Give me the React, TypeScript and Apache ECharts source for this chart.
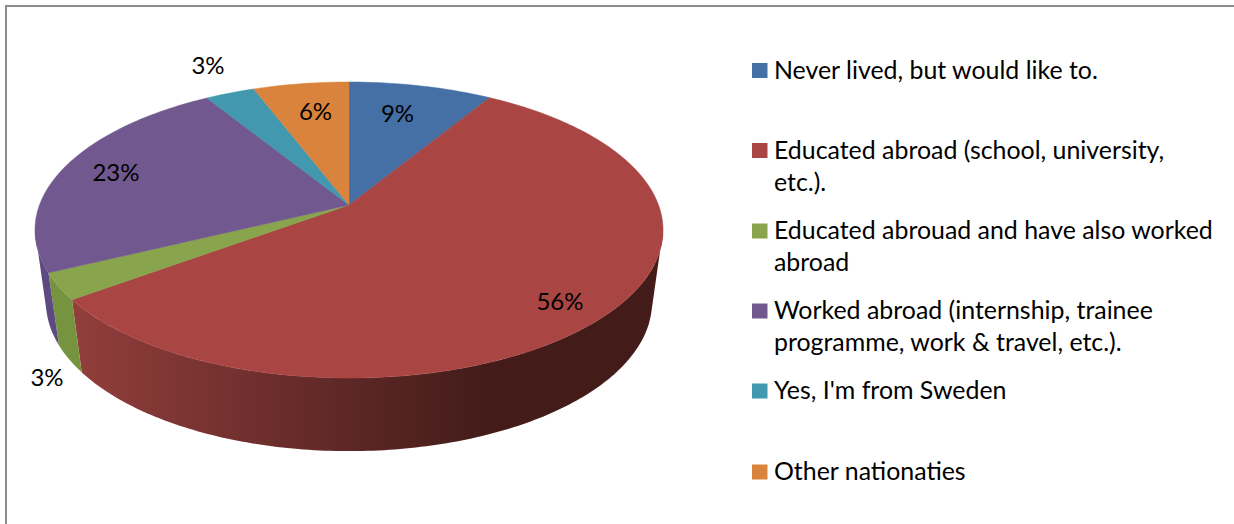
import React, { useEffect, useRef } from "react";
import * as echarts from "echarts";

const categories = [
  "Never lived, but would like to.",
  "Educated abroad (school, university,\netc.).",
  "Educated abrouad and have also worked\nabroad",
  "Worked abroad (internship, trainee\nprogramme, work & travel, etc.).",
  "Yes, I'm from Sweden",
  "Other nationaties",
];
const shares = [8.7, 56.2, 2.9, 23.4, 3.0, 5.8];
const topColors = ["#4470A6", "#A94543", "#88A44D", "#71588F", "#4198AF", "#DA833C"];
const wallColors = ["#35577F", "#7E3432", "#769440", "#5E4A80", "#327487", "#A8652F"];
const labelCenters = [[397.5, 112], [560, 300.5], [47, 376.5], [116, 171.5], [208, 64.5], [315.5, 110.5]];
const legendRowY = [70.5, 150.5, 231, 311, 391, 472];

const FONT = "Lato, Carlito, sans-serif";
const CX = 349;
const TOP_Y = 205;
const BOTTOM_Y = 277;
const A = 309.5;
const B = 143.8;
const B_BOTTOM = 144.7;
const K = 0.169;
const BOTTOM_SCALE = 0.965;
// Silhouette of the cylinder: where the top rim and the bottom rim turn away from the viewer.
const TOP_EDGE = Math.acos(-K);
const BOTTOM_EDGE = (104 / 180) * Math.PI;

const total = shares.reduce((s, v) => s + v, 0);
const starts = shares.map((_, i) => shares.slice(0, i).reduce((s, v) => s + v, 0));

function project(angle: number, r: number, bottom: boolean): number[] {
  const u = r * Math.sin(angle);
  const v = -r * Math.cos(angle);
  const w = 1 - K * v;
  if (bottom) return [CX + (BOTTOM_SCALE * A * u) / w, BOTTOM_Y + (B_BOTTOM * v) / w];
  return [CX + (A * u) / w, TOP_Y + (B * v) / w];
}

function arc(a0: number, a1: number, bottom: boolean): number[][] {
  const n = Math.max(2, Math.ceil(Math.abs(a1 - a0) / 0.015));
  const pts: number[][] = [];
  for (let i = 0; i <= n; i++) pts.push(project(a0 + ((a1 - a0) * i) / n, 1, bottom));
  return pts;
}

function renderSlice(params: any, api: any) {
  const i = params.dataIndex;
  const value = api.value(0);
  const start = api.value(1);
  const a0 = (start / total) * Math.PI * 2;
  const a1 = ((start + value) / total) * Math.PI * 2;
  const topArc = arc(a0, a1, false);
  const wallFill =
    i === 1
      ? new echarts.graphic.LinearGradient(0, 0, 1, 0, [
          { offset: 0, color: "#923E3C" },
          { offset: 0.7, color: "#431C1A" },
          { offset: 1, color: "#431C1A" },
        ])
      : wallColors[i];
  const children: any[] = [];
  const topFrom = Math.max(a0, TOP_EDGE);
  const topTo = Math.min(a1, Math.PI * 2 - TOP_EDGE);
  if (topFrom < topTo) {
    const botFrom = Math.max(a0, BOTTOM_EDGE);
    const botTo = Math.min(a1, Math.PI * 2 - BOTTOM_EDGE);
    const wallPts = arc(topFrom, topTo, false).concat(arc(botFrom, botTo, true).reverse());
    children.push({ type: "polygon", z2: 1, shape: { points: wallPts }, style: { fill: wallFill } });
  }
  const [lx, ly] = labelCenters[i];
  children.push(
    {
      type: "polygon",
      z2: 10,
      shape: { points: [project(0, 0, false), ...topArc] },
      style: { fill: topColors[i], stroke: topColors[i], lineWidth: 0.5 },
    },
    {
      type: "text",
      z2: 20,
      style: {
        text: `${Math.round(value)}%`,
        x: lx,
        y: ly,
        align: "center",
        verticalAlign: "middle",
        font: `24px ${FONT}`,
        fill: "#000000",
      },
    }
  );
  return { type: "group", children };
}

export default function App() {
  const ref = useRef<HTMLDivElement>(null);
  useEffect(() => {
    document.body.style.margin = "0";
    const chart = echarts.init(ref.current!, undefined, { renderer: "svg" });
    const legend: any[] = [];
    categories.forEach((name, i) => {
      legend.push({
        type: "rect",
        shape: { x: 752, y: legendRowY[i] - 7.5, width: 15.5, height: 15 },
        style: { fill: topColors[i] },
      });
      legend.push({
        type: "text",
        style: {
          text: name,
          x: 774,
          y: legendRowY[i] - 18,
          font: `24.9px ${FONT}`,
          lineHeight: 32,
          verticalAlign: "top",
          fill: "#000000",
        },
      });
    });
    chart.setOption({
      animation: false,
      backgroundColor: "#ffffff",
      graphic: [
        {
          type: "polyline",
          shape: { points: [[6, 524], [6, 6], [1234, 6]] },
          style: { stroke: "#8C8C8C", lineWidth: 2, fill: "none" },
        },
        ...legend,
      ],
      series: [
        {
          type: "custom",
          coordinateSystem: "none",
          silent: true,
          renderItem: renderSlice,
          data: shares.map((v, i) => ({ name: categories[i], value: [v, starts[i]] })),
        },
      ],
    });
    return () => chart.dispose();
  }, []);
  return <div ref={ref} style={{ position: "absolute", left: 0, top: 0, width: 1234, height: 524 }} />;
}
